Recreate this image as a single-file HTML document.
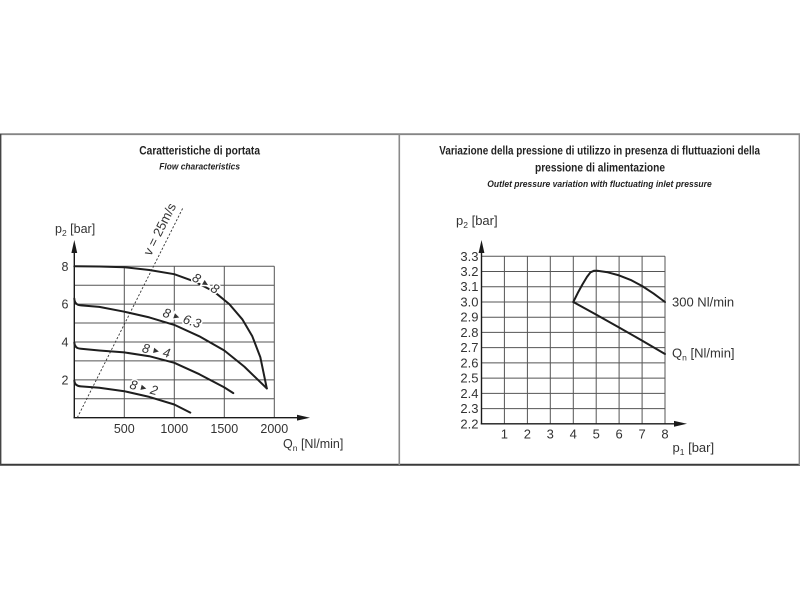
<!DOCTYPE html>
<html><head><meta charset="utf-8"><style>
html,body{margin:0;padding:0;background:#fff;width:800px;height:600px;overflow:hidden}
svg{display:block}
</style></head><body>
<svg width="800" height="600" viewBox="0 0 800 600" xmlns="http://www.w3.org/2000/svg" font-family="'Liberation Sans', Arial, sans-serif">
<rect width="800" height="600" fill="#fff"/>

<!-- frame -->
<line x1="0" y1="134.2" x2="800" y2="134.2" stroke="#858585" stroke-width="1.8"/>
<line x1="0" y1="464.7" x2="800" y2="464.7" stroke="#3a3a3a" stroke-width="2"/>
<line x1="399.3" y1="134" x2="399.3" y2="465" stroke="#8a8a8a" stroke-width="1.6"/>
<line x1="0.7" y1="134" x2="0.7" y2="465" stroke="#444" stroke-width="1.4"/>
<line x1="799.3" y1="134" x2="799.3" y2="465" stroke="#888" stroke-width="1.4"/>

<!-- ============ CHART 1 ============ -->
<g fill="#222" font-family="'Liberation Sans Narrow','Liberation Sans',sans-serif" font-weight="bold">
  <text x="139.3" y="154.5" font-size="11.5" textLength="120.7" lengthAdjust="spacingAndGlyphs">Caratteristiche di portata</text>
  <text x="159.3" y="169.5" font-size="9.5" font-style="italic" textLength="80.7" lengthAdjust="spacingAndGlyphs">Flow characteristics</text>
</g>

<!-- grid -->
<g stroke="#555" stroke-width="1" fill="none">
  <path d="M124.3 266.3V417.7M174.3 266.3V417.7M224.3 266.3V417.7M274.3 266.3V417.7"/>
  <path d="M74.3 398.77H274.3M74.3 379.84H274.3M74.3 360.91H274.3M74.3 341.98H274.3M74.3 323.05H274.3M74.3 304.12H274.3M74.3 285.19H274.3M74.3 266.26H274.3"/>
</g>
<!-- axes -->
<g stroke="#1a1a1a" stroke-width="1.4" fill="none">
  <line x1="74.3" y1="418.3" x2="74.3" y2="250"/>
  <line x1="73.6" y1="417.7" x2="300" y2="417.7"/>
</g>
<polygon points="74.3,240 71.4,253 77.2,253" fill="#1a1a1a"/>
<polygon points="310,417.7 297,414.8 297,420.6" fill="#1a1a1a"/>

<!-- dashed v=25m/s -->
<line x1="77.3" y1="417.7" x2="182.7" y2="208.3" stroke="#333" stroke-width="0.9" stroke-dasharray="2.2,1.8"/>
<text x="0" y="0" font-size="13" fill="#333" text-anchor="middle" dominant-baseline="central" transform="translate(159.6,229.2) rotate(-63.3)">v = 25m/s</text>

<!-- curves -->
<g stroke="#1e1e1e" stroke-width="2" fill="none" stroke-linejoin="round" stroke-linecap="round">
  <polyline points="74.3,266.3 99.3,266.5 124.3,267.2 149.3,270.0 174.3,274.2 194.3,281.4 214.3,291.8 229.3,304.1 242.3,319.3 252.3,336.3 260.3,357.1 266.8,388.4"/>
  <path d="M74.3,298.5 Q74.6,305 81,305.4 L99.3,306.9 L124.3,311.7 L149.3,317.4 L174.3,324.9 L199.3,336.3 L224.3,350.5 L244.3,366.6 L266.8,388.4"/>
  <path d="M74.3,342.5 Q74.6,348.5 81,348.8 L99.3,350.5 L124.3,352.4 L149.3,356.2 L174.3,362.8 L199.3,374.2 L224.3,387.4 L233.3,393.1"/>
  <path d="M74.3,380.5 Q74.6,386 81,386.4 L99.3,387.8 L124.3,391.2 L149.3,396.9 L174.3,404.5 L190.3,412.6"/>
</g>

<!-- curve labels -->
<g font-size="13" font-style="italic" fill="#333" stroke="#fff" stroke-width="3" paint-order="stroke" text-anchor="middle" dominant-baseline="central">
  <text transform="translate(205.8,283.3) rotate(30)">8<tspan font-size="9" font-style="normal"> ► </tspan>8</text>
  <text transform="translate(182,318) rotate(18)">8<tspan font-size="9" font-style="normal"> ► </tspan>6.3</text>
  <text transform="translate(156.3,350.5) rotate(12)">8<tspan font-size="9" font-style="normal"> ► </tspan>4</text>
  <text transform="translate(143.8,387.5) rotate(14)">8<tspan font-size="9" font-style="normal"> ► </tspan>2</text>
</g>

<!-- tick labels -->
<g font-size="12.5" fill="#333">
  <g text-anchor="end">
    <text x="68.5" y="270.8">8</text>
    <text x="68.5" y="308.6">6</text>
    <text x="68.5" y="346.5">4</text>
    <text x="68.5" y="384.3">2</text>
  </g>
  <g text-anchor="middle">
    <text x="124.3" y="433">500</text>
    <text x="174.3" y="433">1000</text>
    <text x="224.3" y="433">1500</text>
    <text x="274.3" y="433">2000</text>
  </g>
  <text x="55" y="233">p<tspan font-size="8.5" dy="3">2</tspan><tspan dy="-3"> [bar]</tspan></text>
  <text x="283" y="448">Q<tspan font-size="8.5" dy="3">n</tspan><tspan dy="-3"> [Nl/min]</tspan></text>
</g>

<!-- ============ CHART 2 ============ -->
<g fill="#222" font-family="'Liberation Sans Narrow','Liberation Sans',sans-serif" font-weight="bold">
  <text x="439.3" y="154.5" font-size="11.5" textLength="320.7" lengthAdjust="spacingAndGlyphs">Variazione della pressione di utilizzo in presenza di fluttuazioni della</text>
  <text x="535" y="171.5" font-size="11.5" textLength="130" lengthAdjust="spacingAndGlyphs">pressione di alimentazione</text>
  <text x="487.3" y="187" font-size="9.5" font-style="italic" textLength="224.4" lengthAdjust="spacingAndGlyphs">Outlet pressure variation with fluctuating inlet pressure</text>
</g>

<g stroke="#555" stroke-width="1" fill="none">
  <path d="M504.4 256.3V423.8M527.4 256.3V423.8M550.3 256.3V423.8M573.3 256.3V423.8M596.2 256.3V423.8M619.1 256.3V423.8M642.1 256.3V423.8M665 256.3V423.8"/>
  <path d="M481.5 408.57H665M481.5 393.34H665M481.5 378.11H665M481.5 362.88H665M481.5 347.65H665M481.5 332.42H665M481.5 317.19H665M481.5 301.96H665M481.5 286.73H665M481.5 271.5H665M481.5 256.27H665"/>
</g>
<g stroke="#1a1a1a" stroke-width="1.4" fill="none">
  <line x1="481.5" y1="424.4" x2="481.5" y2="250"/>
  <line x1="480.8" y1="423.8" x2="677" y2="423.8"/>
</g>
<polygon points="481.5,240 478.6,253 484.4,253" fill="#1a1a1a"/>
<polygon points="687,423.8 674,420.9 674,426.7" fill="#1a1a1a"/>

<g stroke="#1e1e1e" stroke-width="2" fill="none" stroke-linejoin="round" stroke-linecap="round">
  <polyline points="573.3,302.0 577.8,292.9 582.4,284.5 587.0,276.9 590.5,272.3 593.9,270.8 597.3,270.8 607.7,272.3 619.1,275.4 630.6,279.9 642.1,286.0 653.6,293.6 665,302.0"/>
  <polyline points="573.3,302.0 596.2,314.6 619.1,327.5 642.1,340.6 665,354"/>
</g>

<g font-size="13" fill="#333">
  <g text-anchor="end">
    <text x="478.5" y="260.8">3.3</text>
    <text x="478.5" y="276">3.2</text>
    <text x="478.5" y="291.2">3.1</text>
    <text x="478.5" y="306.5">3.0</text>
    <text x="478.5" y="321.7">2.9</text>
    <text x="478.5" y="336.9">2.8</text>
    <text x="478.5" y="352.2">2.7</text>
    <text x="478.5" y="367.4">2.6</text>
    <text x="478.5" y="382.6">2.5</text>
    <text x="478.5" y="397.8">2.4</text>
    <text x="478.5" y="413.1">2.3</text>
    <text x="478.5" y="428.3">2.2</text>
  </g>
  <g text-anchor="middle">
    <text x="504.4" y="438.5">1</text>
    <text x="527.4" y="438.5">2</text>
    <text x="550.3" y="438.5">3</text>
    <text x="573.3" y="438.5">4</text>
    <text x="596.2" y="438.5">5</text>
    <text x="619.1" y="438.5">6</text>
    <text x="642.1" y="438.5">7</text>
    <text x="665" y="438.5">8</text>
  </g>
  <text x="456" y="225">p<tspan font-size="8.5" dy="3">2</tspan><tspan dy="-3"> [bar]</tspan></text>
  <text x="672.5" y="452">p<tspan font-size="8.5" dy="3">1</tspan><tspan dy="-3"> [bar]</tspan></text>
  <text x="672" y="306.5">300 Nl/min</text>
  <text x="672" y="357.5">Q<tspan font-size="8.5" dy="3">n</tspan><tspan dy="-3"> [Nl/min]</tspan></text>
</g>
</svg>
</body></html>
